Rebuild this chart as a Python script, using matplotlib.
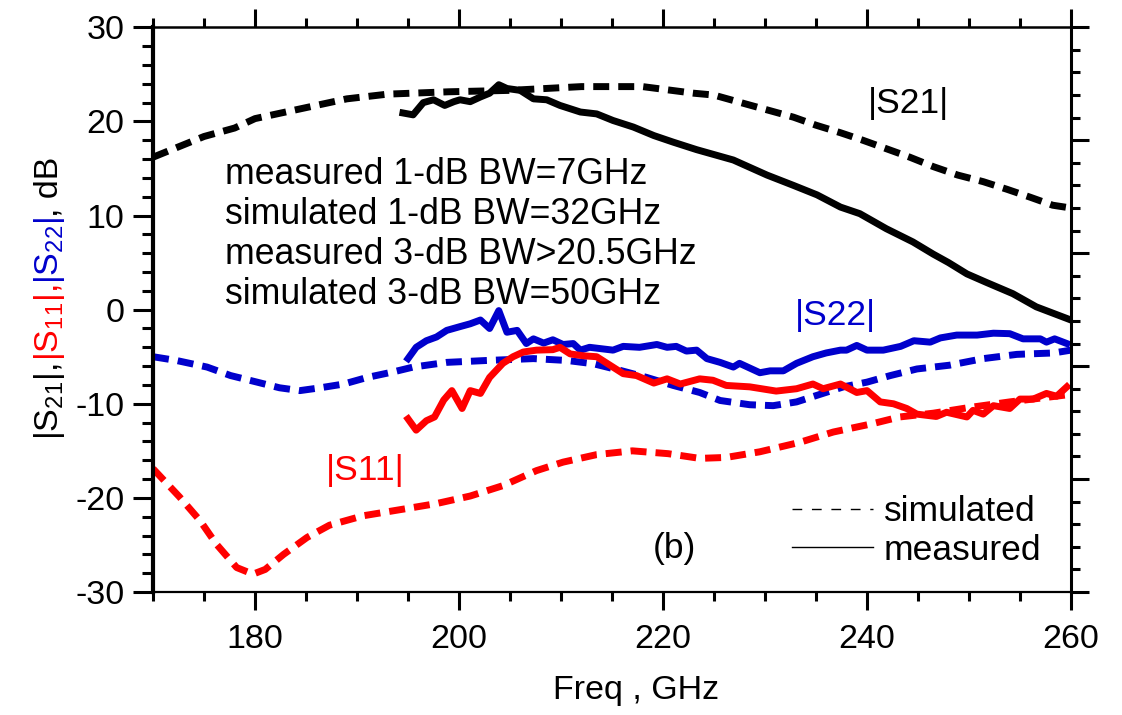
import matplotlib
matplotlib.use("Agg")
import matplotlib.pyplot as plt
from matplotlib.lines import Line2D
from matplotlib.ticker import MultipleLocator

plt.rcParams['font.family'] = ['Liberation Sans', 'DejaVu Sans']
plt.rcParams['mathtext.default'] = 'regular'
plt.rcParams['axes.unicode_minus'] = False

RED = '#ff0000'
BLUE = '#0000cc'

# |S21| simulated (dashed) and measured (solid)
s21_sim_f = [170, 172.5, 175, 178, 180, 183, 186, 189, 193, 199, 205, 212, 218, 223,
             225, 228.3, 232.8, 235, 237.4, 239.6, 241.9, 244.2, 246.5, 248.9, 251.4,
             253.7, 256, 258.2, 260]
s21_sim = [16.2, 17.3, 18.4, 19.3, 20.3, 21.0, 21.7, 22.4, 22.9, 23.15, 23.3, 23.7, 23.7,
           23.0, 22.8, 21.8, 20.45, 19.6, 18.8, 18.0, 17.1, 16.2, 15.2, 14.3, 13.6,
           12.8, 11.95, 11.1, 10.8]

s21_meas_f = [194.5, 195.5, 196.5, 197.5, 198.6, 199.5, 200.1, 201.1, 202.1, 203.0,
              203.9, 204.7, 206.0, 207.3, 208.6, 209.9, 211.9, 213.5, 215.1, 217.1,
              219.1, 221.0, 223.3, 226.9, 230.2, 232.8, 235.1, 237.4, 239.3, 241.9,
              244.5, 246.5, 248.0, 249.8, 251.7, 254.3, 256.6, 258.3, 260]
s21_meas = [20.9, 20.7, 22.0, 22.3, 21.7, 22.1, 22.3, 22.1, 22.6, 23.0,
            23.9, 23.5, 23.3, 22.4, 22.3, 21.7, 21.0, 20.8, 20.1, 19.4,
            18.5, 17.8, 17.0, 15.9, 14.3, 13.2, 12.2, 10.9, 10.2, 8.6,
            7.2, 5.9, 5.0, 3.8, 2.9, 1.7, 0.3, -0.4, -1.1]

# |S22| simulated and measured
s22_sim_f = [170, 172.3, 175.3, 177.6, 180.2, 182.4, 184.4, 186.4, 188.7, 191.0, 193.6,
             195.5, 198.8, 202.7, 207.3, 210.6, 213.2, 215.8, 218.4, 221.0, 223.6,
             225.6, 228.5, 230.8, 233.1, 235.1, 237.7, 240.0, 242.3, 244.9, 248.1,
             251.4, 254.7, 258.3, 260]
s22_sim = [-5.0, -5.4, -6.1, -7.0, -7.7, -8.3, -8.6, -8.3, -7.9, -7.2, -6.6,
           -6.1, -5.6, -5.4, -5.2, -5.4, -5.75, -6.45, -7.2, -8.05, -8.8,
           -9.65, -10.1, -10.2, -9.8, -9.1, -8.2, -7.7, -7.0, -6.3, -5.9,
           -5.2, -4.75, -4.6, -4.3]

s22_meas_f = [195.0, 195.8, 196.8, 197.8, 198.8, 200.1, 201.1, 202.1, 203.0, 203.9,
              204.7, 205.7, 206.6, 207.3, 208.3, 209.2, 210.2, 211.2, 211.9, 212.8,
              215.1, 216.1, 217.7, 219.4, 220.4, 221.3, 222.3, 223.3, 224.3, 225.6,
              226.9, 227.5, 229.5, 230.5, 231.8, 233.1, 234.7, 236.0, 237.4, 238.0,
              239.0, 240.0, 241.6, 243.3, 244.6, 246.2, 247.2, 248.8, 250.8, 252.4,
              254.0, 255.3, 257.0, 257.6, 258.4, 259.6]
s22_meas = [-5.2, -4.0, -3.3, -2.9, -2.2, -1.8, -1.5, -1.1, -2.0, -0.1,
            -2.4, -2.2, -3.6, -3.1, -3.55, -3.2, -3.7, -3.6, -4.3, -4.0,
            -4.3, -3.9, -4.0, -3.7, -4.0, -3.9, -4.4, -4.3, -5.2, -5.6,
            -6.1, -5.7, -6.7, -6.5, -6.5, -5.7, -5.0, -4.6, -4.3, -4.3,
            -3.8, -4.3, -4.3, -3.9, -3.3, -3.45, -3.0, -2.7, -2.7, -2.5,
            -2.55, -3.1, -3.1, -3.45, -3.1, -3.6]

# |S11| simulated and measured
s11_sim_f = [170, 172.6, 174.6, 176.2, 178.2, 179.8, 181.0, 182.8, 185.1, 187.3, 190.6,
             194.5, 197.8, 201.1, 204.3, 207.6, 210.2, 213.5, 217.0, 220.5, 223.6,
             226.2, 229.5, 233.4, 236.7, 240.6, 243.2, 246.5, 250.0, 254.0, 260]
s11_sim = [-16.9, -19.9, -22.4, -24.9, -27.4, -28.1, -27.6, -26.0, -24.2, -22.9, -21.9,
           -21.2, -20.6, -19.8, -18.7, -17.1, -16.2, -15.4, -15.0, -15.3, -15.8,
           -15.7, -15.1, -14.1, -13.0, -12.1, -11.4, -11.0, -10.4, -9.8, -9.0]

s11_meas_f = [195.0, 195.8, 196.8, 197.6, 198.5, 199.3, 200.3, 201.1, 202.1, 203.0,
              204.3, 205.3, 206.3, 207.6, 209.2, 209.9, 210.9, 212.2, 213.5, 214.8,
              216.1, 217.4, 219.1, 220.4, 221.7, 223.6, 224.9, 226.2, 228.5, 231.1,
              233.1, 234.7, 235.7, 237.4, 239.0, 240.0, 241.3, 242.6, 243.9, 244.9,
              246.8, 247.8, 249.8, 250.4, 251.4, 252.4, 254.0, 255.0, 256.3, 257.6,
              258.6, 259.6]
s11_meas = [-11.6, -12.8, -11.8, -11.4, -9.6, -8.6, -10.5, -8.6, -8.9, -7.2,
            -5.7, -5.0, -4.5, -4.3, -4.25, -4.0, -4.7, -4.9, -5.0, -5.9,
            -6.8, -7.0, -7.8, -7.35, -7.9, -7.35, -7.5, -8.05, -8.2, -8.65,
            -8.4, -7.9, -8.4, -7.9, -8.8, -8.6, -9.8, -10.0, -10.5, -11.1,
            -11.35, -10.9, -11.4, -10.7, -11.1, -10.2, -10.5, -9.5, -9.5, -8.9,
            -9.2, -8.2]

bw_notes = ["measured 1-dB BW=7GHz",
            "simulated 1-dB BW=32GHz",
            "measured 3-dB BW>20.5GHz",
            "simulated 3-dB BW=50GHz"]

fig = plt.figure(figsize=(11.22, 7.15), dpi=100)
ax = fig.add_axes([0.1364, 0.172, 0.8181, 0.7898])

lw = 5
dash = (0, (2.3, 1.3))
ax.plot(s21_sim_f, s21_sim, color='k', lw=lw, ls=dash, dash_capstyle='butt')
ax.plot(s22_sim_f, s22_sim, color=BLUE, lw=lw, ls=dash, dash_capstyle='butt')
ax.plot(s11_sim_f, s11_sim, color=RED, lw=lw, ls=dash, dash_capstyle='butt')
ax.plot(s21_meas_f, s21_meas, color='k', lw=lw, solid_joinstyle='round')
ax.plot(s22_meas_f, s22_meas, color=BLUE, lw=lw, solid_joinstyle='round')
ax.plot(s11_meas_f, s11_meas, color=RED, lw=lw, solid_joinstyle='round')

ax.set_xlim(170, 260)
ax.set_ylim(-30, 30)
ax.xaxis.set_major_locator(MultipleLocator(20))
ax.xaxis.set_minor_locator(MultipleLocator(5))
ax.yaxis.set_major_locator(MultipleLocator(10))
ax.yaxis.set_minor_locator(MultipleLocator(2))
ax.tick_params(axis='x', which='both', direction='out', top=True, labelsize=24.5, pad=10, width=2.2)
ax.tick_params(axis='x', which='major', length=13)
ax.tick_params(axis='x', which='minor', length=6.5)
ax.tick_params(axis='y', which='both', direction='out', right=False, labelsize=24.5, pad=6, width=2.2)
ax.tick_params(axis='y', which='major', length=14.5)
ax.tick_params(axis='y', which='minor', length=8)
ax.spines['left'].set_linewidth(3)
ax.spines['bottom'].set_linewidth(1.6)
ax.spines['top'].set_linewidth(1.8)
ax.spines['right'].set_linewidth(2.2)

# right axis carries its own unlabeled tick scale
ax2 = ax.twinx()
ax2.set_ylim(0, 5)
ax2.yaxis.set_major_locator(MultipleLocator(1))
ax2.yaxis.set_minor_locator(MultipleLocator(0.2))
ax2.tick_params(axis='y', which='both', direction='out', labelright=False, width=2.2)
ax2.tick_params(axis='y', which='major', length=13)
ax2.tick_params(axis='y', which='minor', length=6.5)
for sp in ax2.spines.values():
    sp.set_visible(False)

ax.text(240.1, 21.9, "|S21|", fontsize=25.5, color='k', va='center', ha='left')
ax.text(232.9, -0.6, "|S22|", fontsize=25.5, color=BLUE, va='center', ha='left')
ax.text(186.9, -17.1, "|S11|", fontsize=25.5, color=RED, va='center', ha='left')
for i, line in enumerate(bw_notes):
    ax.text(177.1, 13.4 - 4.25 * i, line, fontsize=25.7, va='baseline', ha='left')
ax.text(221.1, -25.4, "(b)", fontsize=25.5, va='center', ha='center')

handles = [Line2D([], [], color='k', lw=1, ls=(0, (7, 7))),
           Line2D([], [], color='k', lw=1)]
ax.legend(handles, ["simulated", "measured"], loc='lower right',
          bbox_to_anchor=(0.968, 0.045), frameon=False, fontsize=25.5,
          handlelength=2.3, handletextpad=0.3, labelspacing=0.15,
          borderpad=0, borderaxespad=0)

ax.set_xlabel("Freq , GHz", fontsize=24.5)
ax.xaxis.set_label_coords(0.526, -0.147)

# multi-coloured y label, built piece by piece upward
fig.canvas.draw()
renderer = fig.canvas.get_renderer()
pieces = [("|S$_{21}$|, ", 'k'), ("|S$_{11}$|,", RED), ("|S$_{22}$|", BLUE), (", dB", 'k')]
W, H = fig.bbox.width, fig.bbox.height
ypos = 715 - 440
for s, c in pieces:
    t = fig.text(58 / W, ypos / H, s, color=c, fontsize=24.5, rotation=90,
                 rotation_mode='anchor', ha='left', va='baseline')
    ypos += t.get_window_extent(renderer).height

fig.savefig("out.png", dpi=100)
